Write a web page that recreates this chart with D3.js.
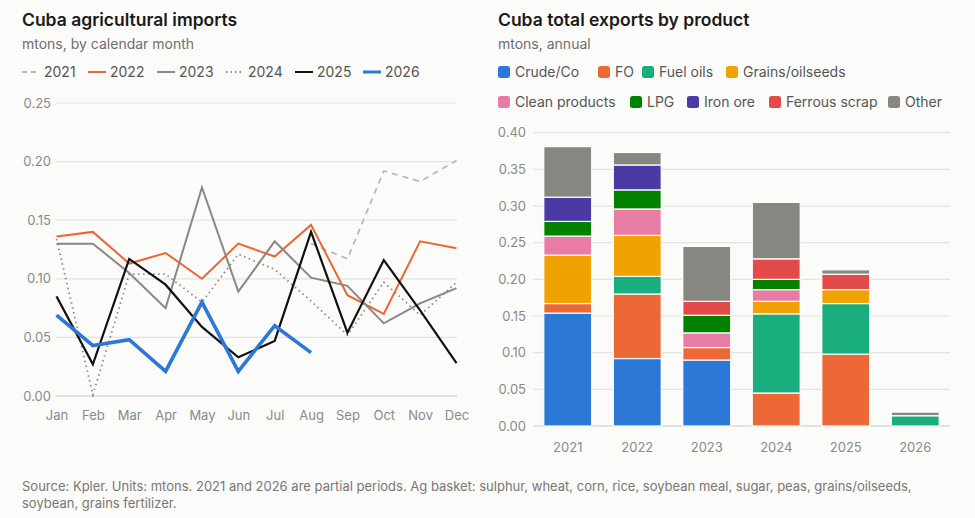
<!DOCTYPE html>
<html>
<head>
<meta charset="utf-8">
<script src="https://cdn.jsdelivr.net/npm/d3@7"></script>
<style>
  html, body { margin: 0; padding: 0; background: #fbfbf9; }
  svg { display: block; }
  text { font-family: Inter, "Noto Sans", sans-serif; }
</style>
</head>
<body>
<svg id="chart" width="975" height="518"></svg>
<script>
// ---------- Data: left chart (agricultural imports, mtons by month) ----------
const months = ["Jan","Feb","Mar","Apr","May","Jun","Jul","Aug","Sep","Oct","Nov","Dec"];
const lineYears = ["2021","2022","2023","2024","2025","2026"];
const imp2021 = [null,null,null,null,null,null,null,0.130,0.117,0.192,0.183,0.201];
const imp2022 = [0.136,0.140,0.113,0.122,0.100,0.130,0.119,0.146,0.086,0.070,0.132,0.126];
const imp2023 = [0.130,0.130,0.105,0.075,0.178,0.089,0.132,0.101,0.094,0.062,0.079,0.092];
const imp2024 = [0.134,0.001,0.104,0.104,0.080,0.121,0.108,0.081,0.052,0.097,0.069,0.097];
const imp2025 = [0.085,0.027,0.117,0.095,0.059,0.033,0.047,0.140,0.054,0.116,0.073,0.028];
const imp2026 = [0.069,0.043,0.048,0.021,0.080,0.021,0.060,0.037,null,null,null,null];
const lineTicks = [0, 0.05, 0.10, 0.15, 0.20, 0.25];

// ---------- Data: right chart (total exports by product, mtons annual) ----------
const barYears = ["2021","2022","2023","2024","2025","2026"];
const products = ["Crude/Co","FO","Fuel oils","Grains/oilseeds","Clean products","LPG","Iron ore","Ferrous scrap","Other"];
const crudeCo   = [0.154,0.092,0.090,0.000,0.000,0.000];
const fo        = [0.013,0.088,0.017,0.045,0.098,0.000];
const fuelOils  = [0.000,0.024,0.000,0.108,0.069,0.014];
const grains    = [0.066,0.056,0.000,0.017,0.019,0.000];
const clean     = [0.026,0.036,0.020,0.016,0.000,0.000];
const lpg       = [0.020,0.026,0.024,0.014,0.000,0.000];
const ironOre   = [0.033,0.034,0.000,0.000,0.000,0.000];
const scrap     = [0.000,0.000,0.019,0.028,0.021,0.000];
const other     = [0.069,0.017,0.075,0.077,0.006,0.005];
const barTicks = [0, 0.05, 0.10, 0.15, 0.20, 0.25, 0.30, 0.35, 0.40];

const productColors = ["#2b78d6","#ec6836","#1aad7d","#f0a202","#e97ca5","#008200","#4a3aa6","#e34a4a","#878680"];

const svg = d3.select("#chart");
const textDark = "#1a1a1a", textGray = "#6f6f6f", tickGray = "#8a8a8a", gridCol = "#e3e3e1";

// ================= LEFT CHART =================
svg.append("text").attr("x", 22).attr("y", 26).attr("font-size", 17.5).attr("font-weight", 600)
  .attr("fill", textDark).text("Cuba agricultural imports");
svg.append("text").attr("x", 22).attr("y", 49).attr("font-size", 14).attr("fill", textGray)
  .text("mtons, by calendar month");

const lineSeries = [
  {name: lineYears[0], values: imp2021, color: "#b8b8b6", width: 1.8, dash: "6,5"},
  {name: lineYears[1], values: imp2022, color: "#ee6535", width: 2, dash: null},
  {name: lineYears[2], values: imp2023, color: "#888884", width: 2, dash: null},
  {name: lineYears[3], values: imp2024, color: "#8a8a88", width: 1.8, dash: "1.5,3.5"},
  {name: lineYears[4], values: imp2025, color: "#111111", width: 2.2, dash: null},
  {name: lineYears[5], values: imp2026, color: "#2b78d6", width: 3.6, dash: null}
];

// legend
const legX = [22, 88, 157, 226, 295, 363];
lineSeries.forEach((s, i) => {
  const g = svg.append("g").attr("transform", `translate(${legX[i]},72)`);
  g.append("line").attr("x1", 0).attr("x2", 18).attr("y1", 0).attr("y2", 0)
    .attr("stroke", s.color).attr("stroke-width", s.name === "2026" ? 3 : 2)
    .attr("stroke-dasharray", s.dash === "6,5" ? "5,4" : (s.dash ? "1.5,3" : null));
  g.append("text").attr("x", 22).attr("y", 5).attr("font-size", 14).attr("fill", "#555")
    .text(s.name);
});

const xL = d3.scalePoint().domain(months).range([56.5, 456.5]);
const yL = d3.scaleLinear().domain([0, 0.25]).range([396, 103]);

const gL = svg.append("g");
gL.selectAll("line.grid").data(lineTicks).join("line")
  .attr("x1", 56).attr("x2", 457)
  .attr("y1", d => yL(d)).attr("y2", d => yL(d))
  .attr("stroke", d => d === 0 ? "#c8c8c6" : gridCol).attr("stroke-width", 1.2);

const yAxisL = d3.axisLeft(yL).tickValues(lineTicks).tickFormat(d3.format(".2f")).tickSize(0).tickPadding(0);
gL.append("g").attr("transform", "translate(51,0)").call(yAxisL)
  .call(g => g.select(".domain").remove())
  .call(g => g.selectAll("text").attr("font-size", 13).attr("fill", tickGray).attr("font-family", "Inter, sans-serif"));

const xAxisL = d3.axisBottom(xL).tickSize(0).tickPadding(0);
gL.append("g").attr("transform", "translate(0,411)").call(xAxisL)
  .call(g => g.select(".domain").remove())
  .call(g => g.selectAll("text").attr("font-size", 13).attr("fill", tickGray).attr("font-family", "Inter, sans-serif"));

const lineGen = d3.line().defined(d => d.v !== null).x(d => xL(d.m)).y(d => yL(d.v));
lineSeries.forEach(s => {
  gL.append("path")
    .datum(s.values.map((v, i) => ({m: months[i], v})))
    .attr("d", lineGen)
    .attr("fill", "none").attr("stroke", s.color).attr("stroke-width", s.width)
    .attr("stroke-dasharray", s.dash).attr("stroke-linejoin", "miter").attr("stroke-linecap", "butt");
});

// ================= RIGHT CHART =================
svg.append("text").attr("x", 498).attr("y", 26).attr("font-size", 17.5).attr("font-weight", 600)
  .attr("fill", textDark).text("Cuba total exports by product");
svg.append("text").attr("x", 498).attr("y", 49).attr("font-size", 14).attr("fill", textGray)
  .text("mtons, annual");

const legPos = [[498,72],[598,72],[642,72],[726,72],[498,102],[630,102],[687,102],[769,102],[888,102]];
products.forEach((p, i) => {
  const g = svg.append("g").attr("transform", `translate(${legPos[i][0]},${legPos[i][1]})`);
  g.append("rect").attr("x", 0).attr("y", -6).attr("width", 12).attr("height", 12).attr("rx", 2.5)
    .attr("fill", productColors[i]);
  g.append("text").attr("x", 17).attr("y", 5).attr("font-size", 14).attr("fill", "#555").text(p);
});

const seriesArrays = [crudeCo, fo, fuelOils, grains, clean, lpg, ironOre, scrap, other];
const table = barYears.map((y, j) => {
  const row = {year: y};
  products.forEach((p, i) => row[p] = seriesArrays[i][j]);
  return row;
});
const stacked = d3.stack().keys(products)(table);

const xB = d3.scaleBand().domain(barYears).range([533, 950]).paddingInner(0.31).paddingOuter(0.155);
const yB = d3.scaleLinear().domain([0, 0.40]).range([426, 132.7]);

const gR = svg.append("g");
gR.selectAll("line.grid").data(barTicks).join("line")
  .attr("x1", 533).attr("x2", 950)
  .attr("y1", d => yB(d)).attr("y2", d => yB(d))
  .attr("stroke", d => d === 0 ? "#c8c8c6" : gridCol).attr("stroke-width", 1.2);

const yAxisR = d3.axisLeft(yB).tickValues(barTicks).tickFormat(d3.format(".2f")).tickSize(0).tickPadding(0);
gR.append("g").attr("transform", "translate(526,0)").call(yAxisR)
  .call(g => g.select(".domain").remove())
  .call(g => g.selectAll("text").attr("font-size", 13).attr("fill", tickGray).attr("font-family", "Inter, sans-serif"));

const xAxisR = d3.axisBottom(xB).tickSize(0).tickPadding(0);
gR.append("g").attr("transform", "translate(0,443)").call(xAxisR)
  .call(g => g.select(".domain").remove())
  .call(g => g.selectAll("text").attr("font-size", 13).attr("fill", tickGray).attr("font-family", "Inter, sans-serif"));

stacked.forEach((layer, i) => {
  gR.append("g").selectAll("rect").data(layer.filter(d => d[1] - d[0] > 0)).join("rect")
    .attr("x", d => xB(d.data.year))
    .attr("width", xB.bandwidth())
    .attr("y", d => yB(d[1]))
    .attr("height", d => Math.max(0, yB(d[0]) - yB(d[1])))
    .attr("fill", productColors[i])
    .attr("stroke", "#ffffff").attr("stroke-width", 1.2);
});

// ================= FOOTER =================
svg.append("text").attr("x", 22).attr("y", 491).attr("font-size", 13).attr("fill", "#777")
  .text("Source: Kpler. Units: mtons. 2021 and 2026 are partial periods. Ag basket: sulphur, wheat, corn, rice, soybean meal, sugar, peas, grains/oilseeds,");
svg.append("text").attr("x", 22).attr("y", 508).attr("font-size", 13).attr("fill", "#777")
  .text("soybean, grains fertilizer.");
</script>
</body>
</html>
